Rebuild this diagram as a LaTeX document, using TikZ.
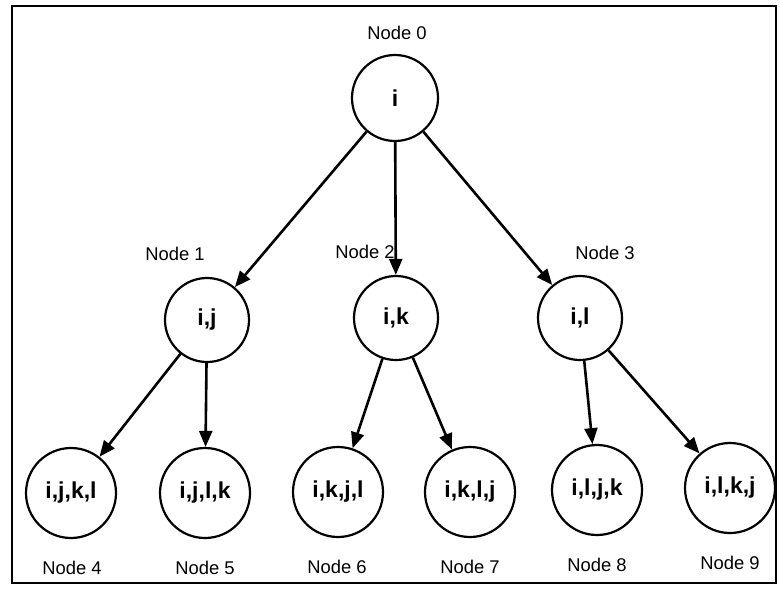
\documentclass[tikz,border=0pt]{standalone}
\usepackage{fontspec}
\setmainfont{Liberation Sans}
\usetikzlibrary{shapes}
\usetikzlibrary{arrows.meta}
\tikzset{
    mynode/.style = {circle, line width=1.1pt, draw=black, align=center, inner sep=0pt, minimum size=43pt, font=\fontsize{11.5}{13}\selectfont\bfseries},
    mynodeb/.style = {mynode, minimum size=45pt},
    lbl/.style = {font=\fontsize{9.2}{11}\selectfont, inner sep=1pt},
    edgen/.style = {-{Triangle[length=8pt,width=6.5pt]}, line width=1.3pt},
    frame/.style = {line width=0.9pt}
}

\begin{document}
\begin{tikzpicture}[x=0.5pt, y=-0.5pt]
\useasboundingbox (0,0) rectangle (780,589);
\draw[frame] (12,6) rectangle (776,583);
% tree
\node[mynode] at (395,98) (n0) {i};
\node[mynode, minimum size=42pt] at (207,320) (n1) {i,j};
\node[mynode, minimum size=42pt] at (396,318) (n2) {i,k};
\node[mynode, minimum size=42pt] at (580,318) (n3) {i,l};
\node[mynodeb] at (71,493) (n4) {i,j,k,l};
\node[mynodeb] at (205,493) (n5) {i,j,l,k};
\node[mynodeb] at (338,492) (n6) {i,k,j,l};
\node[mynodeb] at (470,492) (n7) {i,k,l,j};
\node[mynodeb] at (597,490) (n8) {i,l,j,k};
\node[mynodeb] at (730,488) (n9) {i,l,k,j};
% labels
\node[lbl] at (397,33) (l0) {Node 0};
\node[lbl] at (175,254) (l1) {Node 1};
\node[lbl] at (365,252) (l2) {Node 2};
\node[lbl] at (605,253) (l3) {Node 3};
\node[lbl] at (72,568) (l4) {Node 4};
\node[lbl] at (205,568) (l5) {Node 5};
\node[lbl] at (337,567) (l6) {Node 6};
\node[lbl] at (470,567) (l7) {Node 7};
\node[lbl] at (597,565) (l8) {Node 8};
\node[lbl] at (730,563) (l9) {Node 9};
% edges
\draw[edgen] (n0) -- (n1);
\draw[edgen] (n0) -- (n2);
\draw[edgen] (n0) -- (n3);
\draw[edgen] (n1) -- (n4);
\draw[edgen] (n1) -- (n5);
\draw[edgen] (n2) -- (n6);
\draw[edgen] (n2) -- (n7);
\draw[edgen] (n3) -- (n8);
\draw[edgen] (n3) -- (n9);
\end{tikzpicture}
\end{document}
